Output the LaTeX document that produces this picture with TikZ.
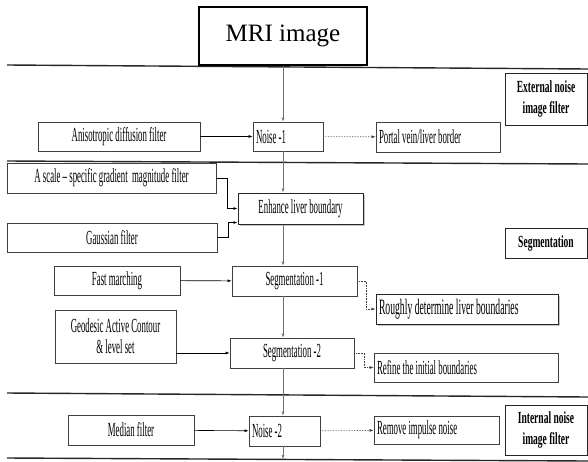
\documentclass[tikz,border=0pt]{standalone}
\usepackage{fontspec}
\setmainfont{Liberation Serif}
\newfontfamily\narrowfont[FakeStretch=0.44,Ligatures=TeX]{Liberation Serif}
\newfontfamily\narrowbold[FakeStretch=0.56,Ligatures=TeX]{Liberation Serif}
\usepackage{tikz}
\usetikzlibrary{positioning,calc,arrows.meta,shadows}

\begin{document}
\begin{tikzpicture}[x=1pt,y=-1pt,
    box/.style={draw=black!75, line width=0.7pt, inner xsep=3pt, inner ysep=0pt,
        font=\narrowfont\fontsize{20}{21}\selectfont},
    lbox/.style={box, align=flush left},
    shadebox/.style={box, draw=black!85, line width=1pt, fill=white,
        drop shadow={shadow xshift=2pt, shadow yshift=-2pt, opacity=0.45}},
    stage/.style={draw=black!85, line width=0.8pt, align=center, inner sep=2pt,
        font=\narrowbold\bfseries\fontsize{17}{21}\selectfont},
    flow/.style={draw=black!55, line width=0.6pt, -{Latex[length=4pt,width=3pt]}},
    feed/.style={draw=black, line width=0.6pt, -{Latex[length=4pt,width=3pt]}},
    outflow/.style={draw=black!75, line width=0.6pt, densely dotted, -{Latex[length=4pt,width=3pt]}},
    divider/.style={draw=black!85, line width=1.4pt}]
    \useasboundingbox (0,0) rectangle (588,461);

    % Dividers
    \draw [divider] (7,65) -- (588,69);
    \draw [divider] (7,161) -- (588,164);
    \draw [divider] (7,393) -- (588,397);
    \draw [divider] (7,458) -- (588,461);

    % Input
    \node [draw, line width=1.4pt, fill=white, minimum width=168pt, minimum height=58pt,
        font=\fontsize{25}{28}\selectfont] (mri) at (283,36) {MRI image};

    % Stage labels
    \node [stage, minimum width=82pt, minimum height=52pt] (extlabel) at (546,99) {External noise\\image filter};
    \node [stage, minimum width=82pt, minimum height=30pt] (seglabel) at (546,243) {Segmentation};
    \node [stage, minimum width=82pt, minimum height=50pt] (intlabel) at (546,430) {Internal noise\\image filter};

    % External noise
    \node [box, minimum width=162pt, minimum height=29pt] (aniso) at (119,136.5) {Anisotropic diffusion filter};
    \node [lbox, text width=64pt, minimum height=29pt] (noise1) at (288,136.5) {Noise -1};
    \node [lbox, text width=118pt, minimum height=30pt] (portal) at (438,137) {Portal vein/liver border};

    % Segmentation
    \node [box, minimum width=209pt, minimum height=30pt] (gradfilt) at (111.5,178) {A scale \textendash{} specific gradient\ \ magnitude filter};
    \node [box, minimum width=210pt, minimum height=29pt] (gauss) at (112,237.5) {Gaussian filter};
    \node [shadebox, minimum width=125pt, minimum height=31pt] (enhance) at (300.5,208.5) {Enhance liver boundary};
    \node [box, minimum width=126pt, minimum height=29pt] (fast) at (117,280.5) {Fast marching};
    \node [box, minimum width=125pt, minimum height=30pt] (seg1) at (294.5,281) {Segmentation -1};
    \node [shadebox, align=flush left, text width=176pt, minimum height=30pt,
        font=\narrowfont\fontsize{22}{23}\selectfont] (rough) at (467,309) {Roughly determine liver boundaries};
    \node [box, align=center, minimum width=121pt, minimum height=53pt] (geo) at (115.5,336.5) {Geodesic Active Contour\\\& level set};
    \node [box, minimum width=124pt, minimum height=30pt] (seg2) at (292,353) {Segmentation -2};
    \node [lbox, text width=178pt, minimum height=29pt] (refine) at (466,367.5) {Refine the initial boundaries};

    % Internal noise
    \node [box, minimum width=126pt, minimum height=30pt] (median) at (131,430) {Median filter};
    \node [lbox, text width=65pt, minimum height=30pt] (noise2) at (284.5,431) {Noise -2};
    \node [lbox, text width=119pt, minimum height=28pt] (remove) at (436.5,430) {Remove impulse noise};
    \coordinate (bottom) at (283,459);

    % Main flow
    \draw [flow] (mri.south) -- (mri.south |- noise1.north);
    \draw [flow] (noise1.south -| mri.south) -- (enhance.north -| mri.south);
    \draw [flow] (enhance.south -| mri.south) -- (seg1.north -| mri.south);
    \draw [flow] (seg1.south -| mri.south) -- (seg2.north -| mri.south);
    \draw [flow] (seg2.south -| mri.south) -- (noise2.north -| mri.south);
    \draw [flow] (noise2.south -| mri.south) -- (bottom);

    % Filters
    \draw [feed] (aniso) -- (noise1);
    \draw [feed] (gradfilt.east) -- ++(11,0) |- (enhance.west);
    \draw [feed] (gauss.east) -- ++(11,0) |- ([yshift=2pt]enhance.south west);
    \draw [feed] (fast) -- (seg1);
    \draw [feed] (geo.east |- seg2.west) -- (seg2.west);
    \draw [feed] (median) -- (noise2);

    % Results
    \draw [outflow] (noise1) -- (portal);
    \draw [outflow] (seg1.east) -- ++(9,0) |- (rough.west);
    \draw [outflow] (seg2.east) -- ++(10,0) |- (refine.west);
    \draw [outflow] (noise2) -- (remove);
\end{tikzpicture}
\end{document}
